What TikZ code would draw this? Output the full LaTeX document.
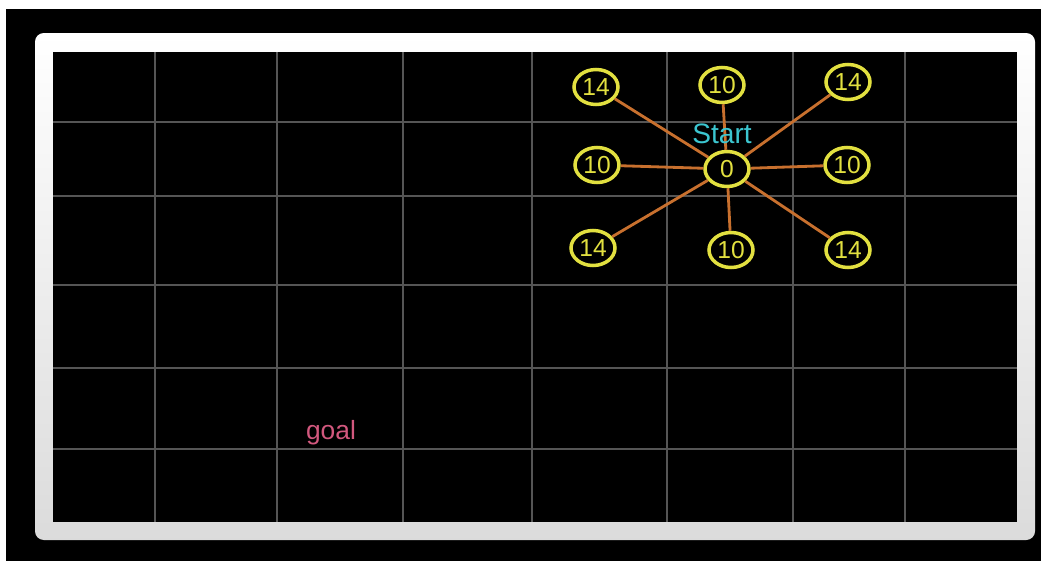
\documentclass[tikz,border=0pt]{standalone}
\usepackage{fontspec}
\setmainfont{Liberation Sans}
\usetikzlibrary{shapes.geometric}
\definecolor{chalkyellow}{HTML}{E2E040}
\definecolor{chalkorange}{HTML}{C8702E}
\definecolor{chalkcyan}{HTML}{3CC6D0}
\definecolor{chalkpink}{HTML}{D2587E}
\definecolor{gridgray}{HTML}{555555}

\begin{document}
\begin{tikzpicture}[
    x=0.02cm, y=-0.02cm,
    cell/.style={
        ellipse,
        draw=chalkyellow,
        line width=2pt,
        minimum width=0.88cm,
        minimum height=0.7cm,
        inner sep=0pt,
        text=chalkyellow,
        font=\fontsize{14}{16}\selectfont
    },
    link/.style={draw=chalkorange, line width=1.6pt},
    gridline/.style={draw=gridgray, line width=1.2pt},
]
\useasboundingbox (0,0) rectangle (1041,561);

% screen and board
\fill[white] (0,0) rectangle (1041,561);
\fill[black] (6,9) rectangle (1041,561);
\shade[top color=white, bottom color=black!14, rounded corners=5pt] (35,33) rectangle (1035,540);
\fill[black] (53,52) rectangle (1017,522);

% grid
\foreach \gx in {155,277,403,532,667,793,905}
    \draw[gridline] (\gx,52) -- (\gx,522);
\foreach \gy in {122,196,285,368,449}
    \draw[gridline] (53,\gy) -- (1017,\gy);

% cells
\node[cell] (start) at (727,169) {0};
\node[cell] (nw) at (596,87)  {14};
\node[cell] (n)  at (722,85)  {10};
\node[cell] (ne) at (848,82)  {14};
\node[cell] (w)  at (597,165) {10};
\node[cell] (e)  at (847,165) {10};
\node[cell] (sw) at (593,248) {14};
\node[cell] (s)  at (731,250) {10};
\node[cell] (se) at (848,250) {14};

\foreach \nb in {nw,n,ne,w,e,sw,s,se}
    \draw[link] (start) -- (\nb);

% labels
\node[text=chalkcyan, font=\fontsize{16}{18}\selectfont] (startlabel) at (722,134) {Start};
\node[text=chalkpink, font=\fontsize{15}{17}\selectfont] (goal) at (331,433) {goal};

\end{tikzpicture}
\end{document}
